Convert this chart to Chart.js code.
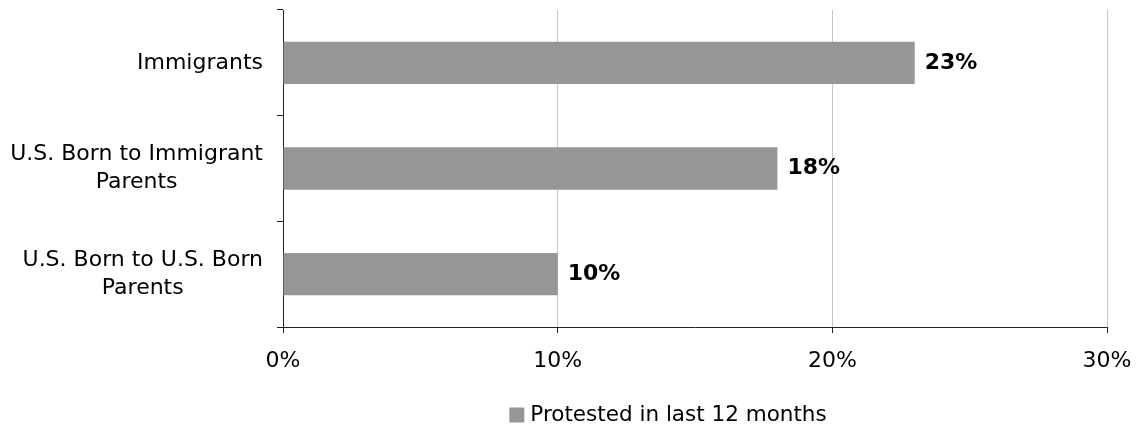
<!DOCTYPE html>
<html>
<head>
<meta charset="utf-8">
<script src="https://cdn.jsdelivr.net/npm/chart.js@4/dist/chart.umd.min.js"></script>
<style>
  html,body{margin:0;padding:0;background:#fff;}
  #wrap{width:1136px;height:425px;}
</style>
</head>
<body>
<div id="wrap"><canvas id="chart" width="1136" height="425"></canvas></div>
<script>
// data
const categories = [['Immigrants'], ['U.S. Born to Immigrant','Parents'], ['U.S. Born to U.S. Born','Parents']];
const protested = [23, 18, 10];
const seriesName = 'Protested in last 12 months';
const xTicks = [0, 10, 20, 30];

const FONT = "'DejaVu Sans', Verdana, sans-serif";
const BAR = '#969696';
const AXIS = '#222';

// y labels: block right-aligned to the axis, lines centred inside the block
const yLabelPlugin = {
  id: 'yLabels',
  afterDraw(chart){
    const ctx = chart.ctx, y = chart.scales.y, right = chart.chartArea.left - 20;
    ctx.save();
    ctx.font = '22px ' + FONT;
    ctx.fillStyle = '#000';
    ctx.textAlign = 'center';
    ctx.textBaseline = 'middle';
    categories.forEach((lines, i)=>{
      const w = Math.max(...lines.map(l=>ctx.measureText(l).width));
      const cy = y.getPixelForValue(i);
      const lh = 28;
      lines.forEach((l, j)=>{
        ctx.fillText(l, right - w/2, cy + (j - (lines.length-1)/2)*lh);
      });
    });
    ctx.restore();
  }
};

// value labels right of each bar
const valuePlugin = {
  id: 'values',
  afterDatasetsDraw(chart){
    const ctx = chart.ctx;
    ctx.save();
    ctx.font = 'bold 22px ' + FONT;
    ctx.fillStyle = '#000';
    ctx.textAlign = 'left';
    ctx.textBaseline = 'middle';
    chart.getDatasetMeta(0).data.forEach((bar, i)=>{
      ctx.fillText(protested[i] + '%', bar.x + 10, bar.y);
    });
    ctx.restore();
  }
};

// legend under the axis, centred a bit left of the plot centre as in the source
const legendPlugin = {
  id: 'bottomLegend',
  afterDraw(chart){
    const ctx = chart.ctx, ds = chart.data.datasets[0];
    ctx.save();
    ctx.font = '21.5px ' + FONT;
    const tw = ctx.measureText(ds.label).width;
    const box = 15, gap = 6;
    const cx = (chart.chartArea.left + chart.chartArea.right) / 2 - 27;
    const x0 = cx - (box + gap + tw) / 2;
    const cy = chart.height - 10;
    ctx.fillStyle = ds.backgroundColor;
    ctx.fillRect(x0, cy - box/2, box, box);
    ctx.fillStyle = '#000';
    ctx.textBaseline = 'middle';
    ctx.textAlign = 'left';
    ctx.fillText(ds.label, x0 + box + gap, cy);
    ctx.restore();
  }
};

new Chart(document.getElementById('chart'), {
  type: 'bar',
  data: {
    labels: categories.map(c=>c.join(' ')),
    datasets: [{ label: seriesName, data: protested, backgroundColor: BAR,
                 categoryPercentage: 1, barPercentage: 0.4 }]
  },
  options: {
    indexAxis: 'y',
    responsive: false,
    animation: false,
    layout: { padding: { top: 10, right: 29, left: 0, bottom: 43 } },
    plugins: {
      legend: { display: false },
      tooltip: { enabled: false }
    },
    scales: {
      x: {
        min: 0, max: 30,
        afterBuildTicks(s){ s.ticks = xTicks.map(v=>({value:v})); },
        afterFit(s){ s.height = 55; s.paddingLeft = 0; s.paddingRight = 0; },
        border: { color: AXIS, width: 1 },
        grid: { color: '#c8c8c8', tickColor: AXIS, tickLength: 6, drawTicks: true },
        ticks: { callback: v=>v + '%', font: { size: 22, family: FONT }, color: '#000', padding: 15, maxRotation: 0 }
      },
      y: {
        afterFit(s){ s.width = 283; },
        border: { color: AXIS, width: 1 },
        grid: { drawOnChartArea: false, tickColor: AXIS, tickLength: 6, offset: true },
        ticks: { display: false }
      }
    }
  },
  plugins: [yLabelPlugin, valuePlugin, legendPlugin]
});
</script>
</body>
</html>
